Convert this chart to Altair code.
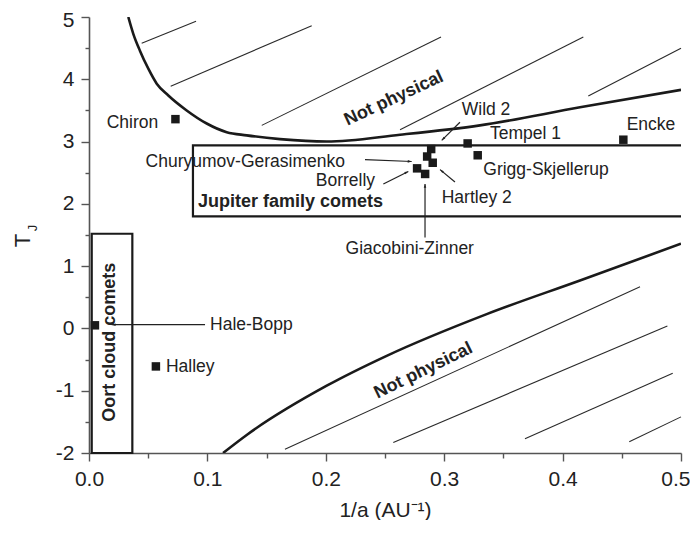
import altair as alt
import pandas as pd

FONT = "Liberation Sans"
INK = "#1a1a1a"

# ---- comets (1/a in AU^-1, Tisserand parameter T_J) ----
comet_names = ["Chiron", "Hale-Bopp", "Halley", "Encke", "Tempel 1", "Grigg-Skjellerup",
               "Wild 2", "Churyumov-Gerasimenko", "Hartley 2", "Borrelly", "Giacobini-Zinner"]
comet_inv_a = [0.073, 0.005, 0.0565, 0.4513, 0.3198, 0.3283, 0.289, 0.2856, 0.2903, 0.2771, 0.2839]
comet_tj = [3.36, 0.05, -0.61, 3.03, 2.97, 2.78, 2.88, 2.76, 2.66, 2.57, 2.48]

# ---- comet name labels ----
label_text = ["Chiron", "Churyumov-Gerasimenko", "Borrelly",
              "Wild 2", "Tempel 1", "Encke", "Grigg-Skjellerup", "Hartley 2", "Hale-Bopp", "Halley",
              "Giacobini-Zinner"]
label_x = [0.0585, 0.2162, 0.2416,
           0.3148, 0.3387, 0.4541, 0.333, 0.2979, 0.1022, 0.065,
           0.2709]
label_t = [3.30, 2.67, 2.37,
           3.51, 3.125, 3.26, 2.55, 2.09, 0.06, -0.62,
           1.27]
label_align = ["right", "right", "right",
               "left", "left", "left", "left", "left", "left", "left",
               "center"]

# ---- bold region labels ----
bold_text = ["Jupiter family comets", "Not physical", "Not physical", "Oort cloud comets"]
bold_x = [0.0921, 0.2576, 0.2824, 0.0177]
bold_t = [2.03, 3.69, -0.68, -0.22]
bold_angle = [0, 335, 334, 270]
bold_align = ["left", "center", "center", "center"]

# ---- boundary curves ----
upper_x = [0.0332, 0.0374, 0.043, 0.0501, 0.0572, 0.067, 0.0825, 0.0994, 0.1163, 0.1332,
           0.1613, 0.2008, 0.2627, 0.3302, 0.4147, 0.5]
upper_t = [5.0, 4.73, 4.46, 4.17, 3.93, 3.74, 3.50, 3.29, 3.15, 3.10,
           3.04, 3.00, 3.11, 3.26, 3.55, 3.83]
lower_x = [0.1132, 0.1332, 0.2008, 0.2514, 0.3359, 0.4147, 0.5]
lower_t = [-2.0, -1.71, -0.92, -0.44, 0.23, 0.77, 1.36]

# ---- hatch lines of the "not physical" regions ----
hatch_x1 = [0.0445, 0.069, 0.1459, 0.2627, 0.4217, 0.1655, 0.2570, 0.3682, 0.4563]
hatch_t1 = [4.58, 3.89, 3.26, 3.19, 3.73, -1.94, -1.83, -1.77, -1.82]
hatch_x2 = [0.0904, 0.1881, 0.2973, 0.4175, 0.5, 0.4654, 0.4885, 0.4930, 0.5]
hatch_t2 = [4.93, 4.86, 4.68, 4.68, 4.50, 0.67, 0.04, -0.72, -1.42]

# ---- Jupiter family box (open on the right) ----
jfc_x = [0.5, 0.0878, 0.0878, 0.5]
jfc_t = [2.94, 2.94, 1.80, 1.80]

# ---- Oort cloud box ----
oort_x1 = [0.0023]
oort_x2 = [0.0366]
oort_t1 = [-2.0]
oort_t2 = [1.52]

# ---- arrows (tail -> head) ----
arrow_x1 = [0.3133, 0.2331, 0.2486, 0.2838, 0.3091, 0.098]
arrow_t1 = [3.31, 2.71, 2.32, 1.46, 2.35, 0.06]
arrow_x2 = [0.2979, 0.2725, 0.2697, 0.2838, 0.2965, 0.0192]
arrow_t2 = [3.02, 2.68, 2.52, 2.32, 2.55, 0.06]
arrow_angle = [225, 92, 63, 0, 310, 270]

x_ticks = [round(i * 0.05, 2) for i in range(11)]
y_ticks = [-2 + 0.5 * i for i in range(15)]

xs = alt.Scale(domain=[0, 0.5], nice=False, zero=False)
ys = alt.Scale(domain=[-2, 5], nice=False, zero=False)

x_major = "abs(datum.value*10 - round(datum.value*10)) < 0.001"
y_major = "abs(datum.value - round(datum.value)) < 0.001"
x_last = "datum.value > 0.49"
y_last = "datum.value > 4.9"

xaxis = alt.Axis(
    values=x_ticks, title="1/a (AU\u207b\u00b9)", grid=False,
    labelExpr=f"{x_major} ? format(datum.value, '.1f') : ''",
    labelFont=FONT, labelFontSize=21, labelColor="#222", labelPadding=7,
    labelFlush=False, labelOverlap=False, labelBound=False,
    labelAlign={"condition": {"test": x_last, "value": "right"}, "value": "center"},
    labelOffset={"condition": {"test": x_last, "value": 9}, "value": 0},
    tickSize={"condition": {"test": x_major, "value": 8}, "value": 5},
    tickColor="#555", tickWidth=1.4, domainColor="#555", domainWidth=1.6,
    titleFont=FONT, titleFontSize=21, titleFontWeight="normal", titleColor="#222",
    titleBaseline="alphabetic", titleY=63,
)
yaxis = alt.Axis(
    values=y_ticks, title="T", grid=False,
    labelExpr=f"{y_major} ? '' + round(datum.value) : ''",
    labelFont=FONT, labelFontSize=21, labelColor="#222", labelPadding=7,
    labelFlush=False, labelOverlap=False, labelBound=False,
    labelOffset={"condition": {"test": y_last, "value": 3}, "value": 0},
    tickSize={"condition": {"test": y_major, "value": 8}, "value": 4},
    tickColor="#555", tickWidth=1.4, domainColor="#555", domainWidth=1.6,
    titleFont=FONT, titleFontSize=22, titleFontWeight="normal", titleColor="#222",
    titleAngle=270, titleBaseline="middle", titleAlign="center", titleX=-67, titleY=223,
)


def X(f):
    return alt.X(f, type="quantitative", scale=xs, axis=xaxis)


def Y(f):
    return alt.Y(f, type="quantitative", scale=ys, axis=yaxis)


comets = pd.DataFrame({"name": comet_names, "x": comet_inv_a, "t": comet_tj})
labels = pd.DataFrame({"text": label_text, "x": label_x, "t": label_t, "align": label_align})
bolds = pd.DataFrame({"text": bold_text, "x": bold_x, "t": bold_t, "angle": bold_angle, "align": bold_align})
upper = pd.DataFrame({"x": upper_x, "t": upper_t, "i": range(len(upper_x))})
lower = pd.DataFrame({"x": lower_x, "t": lower_t, "i": range(len(lower_x))})
hatch = pd.DataFrame({"x": hatch_x1, "t": hatch_t1, "x2": hatch_x2, "t2": hatch_t2})
jfc = pd.DataFrame({"x": jfc_x, "t": jfc_t, "i": range(len(jfc_x))})
oort = pd.DataFrame({"x": oort_x1, "x2": oort_x2, "t": oort_t1, "t2": oort_t2})
arrows = pd.DataFrame({"x": arrow_x1, "t": arrow_t1, "x2": arrow_x2, "t2": arrow_t2, "angle": arrow_angle})

layers = []

layers.append(alt.Chart(hatch).mark_rule(color="#2a2a2a", strokeWidth=1.1).encode(
    x=X("x"), y=Y("t"), x2="x2", y2="t2"))

for df in (upper, lower):
    layers.append(alt.Chart(df).mark_line(color=INK, strokeWidth=2.6, interpolate="monotone", clip=True).encode(
        x=X("x"), y=Y("t"), order="i:Q"))

layers.append(alt.Chart(jfc).mark_line(color=INK, strokeWidth=2.2, strokeJoin="miter").encode(
    x=X("x"), y=Y("t"), order="i:Q"))

layers.append(alt.Chart(oort).mark_rect(fillOpacity=0, stroke=INK, strokeWidth=2.2).encode(
    x=X("x"), x2="x2", y=Y("t"), y2="t2"))

layers.append(alt.Chart(arrows).mark_rule(color="#222", strokeWidth=1.2).encode(
    x=X("x"), y=Y("t"), x2="x2", y2="t2"))

layers.append(alt.Chart(arrows).mark_point(
    shape="M0,0L-0.42,1.3L0.42,1.3Z", filled=True, size=36, color="#222", opacity=1).encode(
    x=X("x2"), y=Y("t2"), angle=alt.Angle("angle:Q", scale=None)))

layers.append(alt.Chart(comets).mark_square(size=72, color=INK, opacity=1).encode(
    x=X("x"), y=Y("t")))

for al in ("left", "right", "center"):
    layers.append(alt.Chart(labels).transform_filter(f"datum.align == '{al}'").mark_text(
        font=FONT, fontSize=17.5, color="#222", align=al, baseline="middle").encode(
        x=X("x"), y=Y("t"), text="text:N"))

for al in ("left", "center"):
    layers.append(alt.Chart(bolds).transform_filter(f"datum.align == '{al}'").mark_text(
        font=FONT, fontSize=18, fontWeight="bold", color="#222", align=al, baseline="middle").encode(
        x=X("x"), y=Y("t"), text="text:N", angle=alt.Angle("angle:Q", scale=None)))

# subscript J of the y-axis title
layers.append(alt.Chart(pd.DataFrame({"s": ["J"]})).mark_text(
    font=FONT, fontSize=13, color="#222", angle=270, align="center", baseline="middle").encode(
    x=alt.value(-56), y=alt.value(211), text="s:N"))

chart = alt.layer(*layers).properties(
    width=592, height=436,
    padding={"left": 81, "top": 9, "right": 9, "bottom": 67},
    autosize=alt.AutoSizeParams(type="none"),
).configure_view(stroke=None).configure_axis(grid=False)

chart.save("out.html", embed_options={"renderer": "svg", "actions": False})
